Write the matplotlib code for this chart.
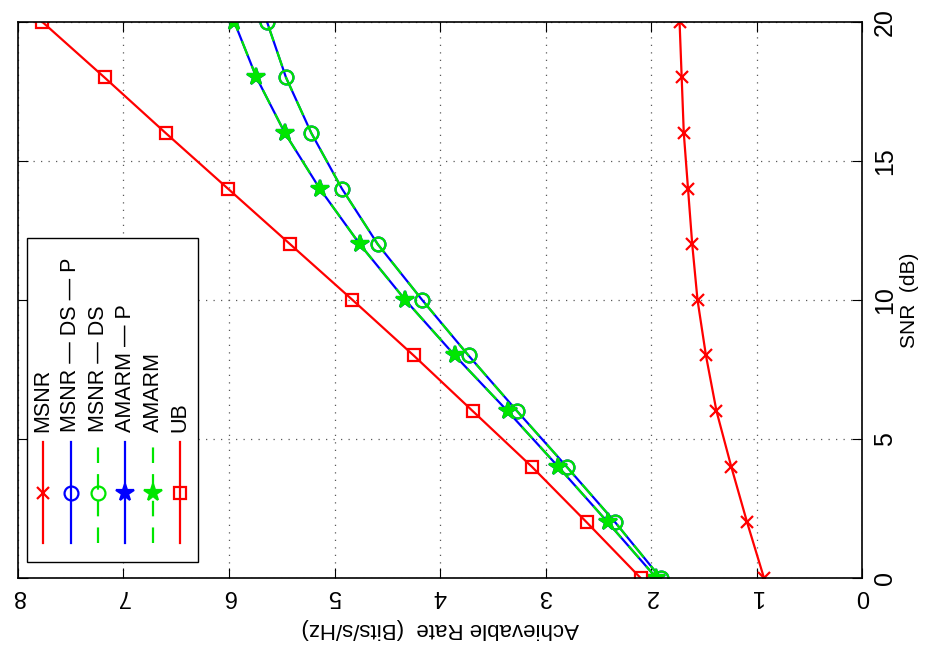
"""
Achievable rate vs SNR, drawn turned on its side (SNR axis on the right)
"""

import matplotlib
matplotlib.use("Agg")
import matplotlib.pyplot as plt
from matplotlib.lines import Line2D
from matplotlib.patches import Rectangle

plt.rcParams["font.family"] = ["Liberation Sans", "DejaVu Sans"]

SNR = [0, 2, 4, 6, 8, 10, 12, 14, 16, 18, 20]
MSNR = [0.93, 1.09, 1.24, 1.38, 1.48, 1.56, 1.61, 1.65, 1.69, 1.71, 1.73]
MSNR_DS_P = [1.91, 2.34, 2.80, 3.27, 3.73, 4.17, 4.59, 4.93, 5.22, 5.46, 5.64]
MSNR_DS = [1.91, 2.34, 2.80, 3.27, 3.73, 4.17, 4.59, 4.93, 5.22, 5.46, 5.64]
AMARM_P = [1.95, 2.41, 2.88, 3.36, 3.86, 4.33, 4.76, 5.14, 5.47, 5.74, 5.95]
AMARM = [1.95, 2.41, 2.88, 3.36, 3.86, 4.33, 4.76, 5.14, 5.47, 5.74, 5.95]
UB = [2.10, 2.61, 3.13, 3.69, 4.25, 4.83, 5.42, 6.01, 6.60, 7.18, 7.77]

RATE_TICKS = [0, 1, 2, 3, 4, 5, 6, 7, 8]
SNR_TICKS = [0, 5, 10, 15, 20]

DASH = (0, (7, 5))
GREEN = "#00e600"

# label, values, color, linestyle, marker, marker size
SERIES = [
    ("MSNR", MSNR, "red", "-", "x", 8),
    ("MSNR \u2014 DS \u2014 P", MSNR_DS_P, "blue", "-", "o", 10),
    ("MSNR \u2014 DS", MSNR_DS, GREEN, DASH, "o", 10),
    ("AMARM \u2014 P", AMARM_P, "blue", "-", "*", 13),
    ("AMARM", AMARM, GREEN, DASH, "*", 13),
    ("UB", UB, "red", "-", "s", 9),
]


def style(color, ls, marker, ms):
    kw = dict(color=color, linestyle=ls, linewidth=1.6, marker=marker,
              markersize=ms, markeredgewidth=1.6)
    if marker == "*":
        kw["markerfacecolor"] = color
    else:
        kw["markerfacecolor"] = "none"
    return kw


def draw_legend(ax):
    # legend turned by 90 degrees, built by hand
    ax.add_patch(Rectangle((0.0107, 0.029), 0.2026, 0.5825, transform=ax.transAxes,
                           facecolor="white", edgecolor="black", linewidth=1.0,
                           zorder=5))
    xs = [0.0296, 0.0628, 0.0948, 0.1268, 0.160, 0.192]
    for x, (label, _, color, ls, marker, ms) in zip(xs, SERIES):
        kw = style(color, ls, marker, ms)
        kw.pop("marker")
        ax.add_line(Line2D([x, x], [0.063, 0.245], transform=ax.transAxes,
                           zorder=6, **kw))
        ax.add_line(Line2D([x], [0.152], transform=ax.transAxes, zorder=6,
                           **style(color, "none", marker, ms)))
        ax.text(x, 0.262, label, transform=ax.transAxes, rotation=90,
                ha="center", va="bottom", fontsize=15.5, zorder=6)


def main():
    fig = plt.figure(figsize=(9.27, 6.62), dpi=100)
    ax = fig.add_axes([0.0194, 0.127, 0.9106, 0.840])

    for label, vals, color, ls, marker, ms in SERIES:
        ax.plot(vals, SNR, label=label, **style(color, ls, marker, ms))

    ax.set_xlim(8, 0)
    ax.set_ylim(0, 20)
    ax.set_xticks(RATE_TICKS)
    ax.set_yticks(SNR_TICKS)
    ax.grid(True, linestyle=(0, (1, 5)), color="0.35", linewidth=0.9)
    ax.tick_params(direction="in", length=7, top=True, bottom=True, left=True,
                   right=True, labelleft=False, labelright=True)
    ax.tick_params(axis="x", labelrotation=180, pad=5, labelsize=17)
    ax.tick_params(axis="y", labelrotation=90, pad=8, labelsize=18)
    for lab in ax.get_yticklabels():
        lab.set_va("center")
    for sp in ax.spines.values():
        sp.set_linewidth(1.2)

    ax.set_xlabel("Achievable Rate  (Bits/s/Hz)", rotation=180, fontsize=16,
                  labelpad=8)
    ax.yaxis.set_label_position("right")
    ax.set_ylabel("SNR  (dB)", rotation=90, fontsize=15, labelpad=2)

    draw_legend(ax)

    fig.savefig("out.png", dpi=100)
    plt.close(fig)


if __name__ == "__main__":
    main()
